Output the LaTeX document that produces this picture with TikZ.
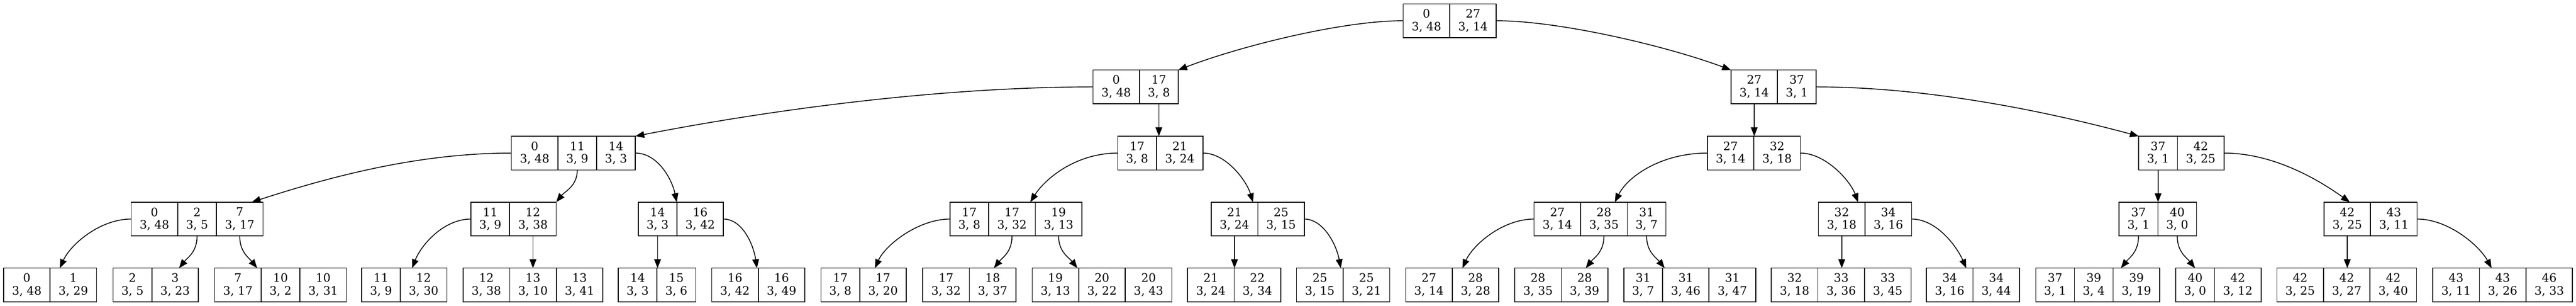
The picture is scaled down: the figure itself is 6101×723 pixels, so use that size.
\documentclass[tikz,border=0pt]{standalone}
\usepackage{fontspec}
\setmainfont{DejaVu Serif}
\usetikzlibrary{arrows.meta,calc}
\def\cwide{55.15pt}
\def\cnarr{45.85pt}
\tikzset{
  cell/.style={draw, line width=1pt, inner sep=0pt, outer sep=0pt,
    minimum height=40pt, align=center, anchor=north west,
    font=\fontsize{13.75pt}{15pt}\selectfont},
  edge/.style={draw, line width=1pt, -{Triangle[length=10.5pt, width=8pt]}},
}
\newcommand\mkrec[4]{%
  \foreach[count=\i] \w/\a/\b in {#4}{%
    \ifnum\i=1
      \node[cell, minimum width=\w] (#1\i) at (#2,#3) {\a\\3, \b};
    \else
      \pgfmathtruncatemacro\j{\i-1}%
      \node[cell, minimum width=\w] (#1\i) at (#1\j.north east) {\a\\3, \b};
    \fi
  }%
}
\begin{document}
\begin{tikzpicture}[x=0.5pt, y=-0.5pt]
\path[fill=white] (0,0) rectangle (6101,723);
\useasboundingbox (0,0) rectangle (6101,723);
% level 0
\mkrec{r}{3323.2}{9}{\cwide/0/48, \cwide/27/14}
% level 1
\mkrec{pa}{2588.5}{165.5}{\cwide/0/48, \cnarr/17/8}
\mkrec{pb}{4099.5}{165.5}{\cwide/27/14, \cnarr/37/1}
% level 2
\mkrec{qa}{1211.1}{322}{\cwide/0/48, \cnarr/11/9, \cnarr/14/3}
\mkrec{qb}{2647.3}{322}{\cnarr/17/8, \cwide/21/24}
\mkrec{qc}{4043.4}{322}{\cwide/27/14, \cwide/32/18}
\mkrec{qd}{5065.3}{322}{\cnarr/37/1, \cwide/42/25}
% level 3
\mkrec{sa}{310.6}{478}{\cwide/0/48, \cnarr/2/5, \cwide/7/17}
\mkrec{sb}{1115.4}{478}{\cnarr/11/9, \cwide/12/38}
\mkrec{sc}{1511.5}{478}{\cnarr/14/3, \cwide/16/42}
\mkrec{sd}{2250}{478}{\cnarr/17/8, \cwide/17/32, \cwide/19/13}
\mkrec{se}{2868.6}{478}{\cwide/21/24, \cwide/25/15}
\mkrec{sf}{3633.3}{478}{\cwide/27/14, \cwide/28/35, \cnarr/31/7}
\mkrec{sg}{4306.8}{478}{\cwide/32/18, \cwide/34/16}
\mkrec{sh}{5019}{478}{\cnarr/37/1, \cnarr/40/0}
\mkrec{si}{5504.1}{478}{\cwide/42/25, \cwide/43/11}
% leaves
\mkrec{va}{8.3}{634}{\cwide/0/48, \cwide/1/29}
\mkrec{vb}{267.9}{634}{\cnarr/2/5, \cwide/3/23}
\mkrec{vc}{508.3}{634}{\cwide/7/17, \cnarr/10/2, \cwide/10/31}
\mkrec{vd}{856.5}{634}{\cnarr/11/9, \cwide/12/30}
\mkrec{ve}{1096.9}{634}{\cwide/12/38, \cwide/13/10, \cwide/13/41}
\mkrec{vf}{1464.3}{634}{\cnarr/14/3, \cnarr/15/6}
\mkrec{vg}{1685.6}{634}{\cwide/16/42, \cwide/16/49}
\mkrec{vh}{1944.5}{634}{\cnarr/17/8, \cwide/17/20}
\mkrec{vi}{2185.6}{634}{\cwide/17/32, \cwide/18/37}
\mkrec{vj}{2444.5}{634}{\cwide/19/13, \cwide/20/22, \cwide/20/43}
\mkrec{vk}{2812.5}{634}{\cwide/21/24, \cwide/22/34}
\mkrec{vl}{3070.8}{634}{\cwide/25/15, \cwide/25/21}
\mkrec{vm}{3329.1}{634}{\cwide/27/14, \cwide/28/28}
\mkrec{vn}{3587.4}{634}{\cwide/28/35, \cwide/28/39}
\mkrec{vo}{3845.7}{634}{\cnarr/31/7, \cwide/31/46, \cwide/31/47}
\mkrec{vp}{4195.2}{634}{\cwide/32/18, \cwide/33/36, \cwide/33/45}
\mkrec{vq}{4562.5}{634}{\cwide/34/16, \cwide/34/44}
\mkrec{vr}{4821.4}{634}{\cnarr/37/1, \cnarr/39/4, \cwide/39/19}
\mkrec{vs}{5153.1}{634}{\cnarr/40/0, \cwide/42/12}
\mkrec{vt}{5392.5}{634}{\cwide/42/25, \cwide/42/27, \cwide/42/40}
\mkrec{vu}{5761.8}{634}{\cwide/43/11, \cwide/43/26, \cwide/46/33}
% edges from root
\draw[edge] (r1.west) .. controls +(-146,0) and +(146,-56) .. (pa2.north east);
\draw[edge] (r2.east) .. controls +(150,0) and +(-150,-56) .. (pb1.north west);
% edges from level 1
\draw[edge] (pa1.west) .. controls +(-345,0) and +(345,-67) .. (qa3.north east);
\draw[edge] (pa2.south) -- (pa2.south |- qb1.north);
\draw[edge] (pb1.south) -- (pb1.south |- qc1.north);
\draw[edge] (pb2.east) .. controls +(246,0) and +(-246,-66) .. (qd1.north west);
% edges from level 2
\draw[edge] (qa1.west) .. controls +(-207,0) and +(208,-67.5) .. ($(sa1.north west)+(285.7,0)$);
\draw[edge] (qa2.south) .. controls +(0,38) and +(20,-25) .. (sb2.north east);
\draw[edge] (qa3.east) .. controls +(55,0) and +(-10,-50) .. ($(sc1.north west)+(91.2,0)$);
\draw[edge] (qb1.west) .. controls +(-100,0) and +(35,-55) .. ($(sd1.north west)+(190.1,0)$);
\draw[edge] (qb2.east) .. controls +(55,0) and +(-15,-50) .. ($(se1.north west)+(98.9,0)$);
\draw[edge] (qc1.west) .. controls +(-110,0) and +(30,-60) .. ($(sf1.north west)+(191.3,0)$);
\draw[edge] (qc2.east) .. controls +(60,0) and +(-18,-50) .. ($(sg1.north west)+(93.7,0)$);
\draw[edge] (qd1.south) -- (qd1.south |- sh1.north);
\draw[edge] (qd2.east) .. controls +(120,0) and +(-70,-50) .. ($(si1.north west)+(61.1,0)$);
% edges from level 3
\draw[edge] (sa1.west) .. controls +(-75,0) and +(25,-55) .. ($(va1.north west)+(133.3,0)$);
\draw[edge] (sa2.south) .. controls +(0,38) and +(20,-25) .. ($(vb1.north west)+(156.2,0)$);
\draw[edge] (sa3.south) .. controls +(0,38) and +(-20,-25) .. ($(vc1.north west)+(100.7,0)$);
\draw[edge] (sb1.west) .. controls +(-65,0) and +(22,-55) .. ($(vd1.north west)+(119.3,0)$);
\draw[edge] (sb2.south) -- (sb2.south |- ve1.north);
\draw[edge] (sc1.south) -- (sc1.south |- vf1.north);
\draw[edge] (sc2.east) .. controls +(45,0) and +(-8,-55) .. ($(vg1.north west)+(107.1,0)$);
\draw[edge] (sd1.west) .. controls +(-75,0) and +(25,-55) .. ($(vh1.north west)+(127.6,0)$);
\draw[edge] (sd2.south) .. controls +(0,38) and +(20,-25) .. ($(vi1.north west)+(168.4,0)$);
\draw[edge] (sd3.south) .. controls +(0,38) and +(-20,-25) .. ($(vj1.north west)+(107.2,0)$);
\draw[edge] (se1.south) -- (se1.south |- vk1.north);
\draw[edge] (se2.east) .. controls +(45,0) and +(-10,-55) .. ($(vl1.north west)+(104.6,0)$);
\draw[edge] (sf1.west) .. controls +(-75,0) and +(25,-55) .. ($(vm1.north west)+(134.5,0)$);
\draw[edge] (sf2.south) .. controls +(0,38) and +(20,-25) .. ($(vn1.north west)+(168.3,0)$);
\draw[edge] (sf3.south) .. controls +(0,38) and +(-20,-25) .. ($(vo1.north west)+(96.9,0)$);
\draw[edge] (sg1.south) -- (sg1.south |- vp1.north);
\draw[edge] (sg2.east) .. controls +(60,0) and +(-22,-50) .. ($(vq1.north west)+(94.4,0)$);
\draw[edge] (sh1.south) .. controls +(0,38) and +(20,-25) .. ($(vr1.north west)+(201.8,0)$);
\draw[edge] (sh2.south) .. controls +(0,38) and +(-20,-25) .. ($(vs1.north west)+(45.6,0)$);
\draw[edge] (si1.south) -- (si1.south |- vt1.north);
\draw[edge] (si2.east) .. controls +(75,0) and +(-28,-52) .. ($(vu1.north west)+(139.1,0)$);
\end{tikzpicture}
\end{document}
